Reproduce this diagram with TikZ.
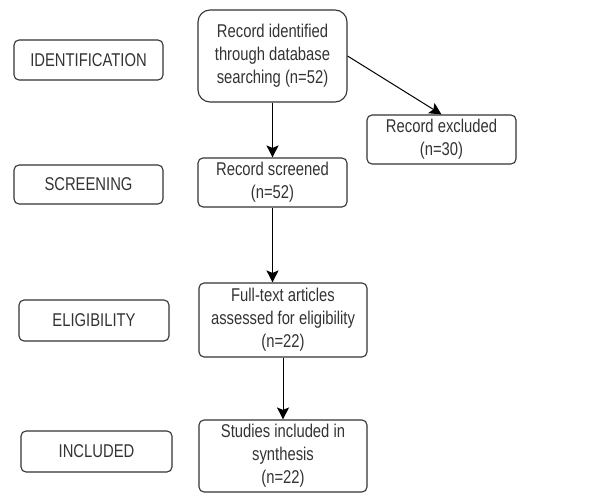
\documentclass[tikz,border=0pt]{standalone}
\usepackage{fontspec}
\setmainfont[FakeStretch=0.8]{Liberation Sans}
\usetikzlibrary{arrows.meta}
\definecolor{lineg}{HTML}{333333}
\definecolor{textg}{HTML}{333333}
\tikzset{
  box/.style={draw=lineg, line width=1.1pt, rounded corners=5pt, align=center,
    text=textg, font=\fontsize{18.5}{23}\selectfont, inner sep=0pt},
  bigbox/.style={box, rounded corners=12pt},
  flow/.style={draw=black, line width=1pt, -{Stealth[length=12pt,width=12pt,inset=2.5pt]}}
}
\begin{document}
\begin{tikzpicture}[x=1pt,y=-1pt]
\useasboundingbox (0,0) rectangle (594,494);
\node[box, minimum width=149pt, minimum height=40pt] (ident) at (88.5,60) {IDENTIFICATION};
\node[bigbox, minimum width=149pt, minimum height=92pt] (recid) at (272.5,56) {Record identified\\through database\\searching (n=52)};
\node[box, minimum width=149pt, minimum height=49pt] (excl) at (441.5,139.5) {Record excluded\\(n=30)};
\node[box, minimum width=149pt, minimum height=39pt] (scr) at (88.5,184.5) {SCREENING};
\node[box, minimum width=149pt, minimum height=49pt] (recscr) at (272.5,182.5) {Record screened\\(n=52)};
\node[box, minimum width=150pt, minimum height=41pt] (elig) at (94,320.5) {ELIGIBILITY};
\node[box, minimum width=168pt, minimum height=74pt] (full) at (283,320) {Full-text articles\\assessed for eligibility\\(n=22)};
\node[box, minimum width=151pt, minimum height=41pt] (incl) at (96.5,451.5) {INCLUDED};
\node[box, minimum width=168pt, minimum height=72pt] (stud) at (283,456) {Studies included in\\synthesis\\(n=22)};
\draw[flow] (recid.south) -- (recscr.north);
\draw[flow] (recid.east) -- (excl.north);
\draw[flow] (recscr.south) -- (recscr.south |- full.north);
\draw[flow] (full.south) -- (stud.north);
\end{tikzpicture}
\end{document}
